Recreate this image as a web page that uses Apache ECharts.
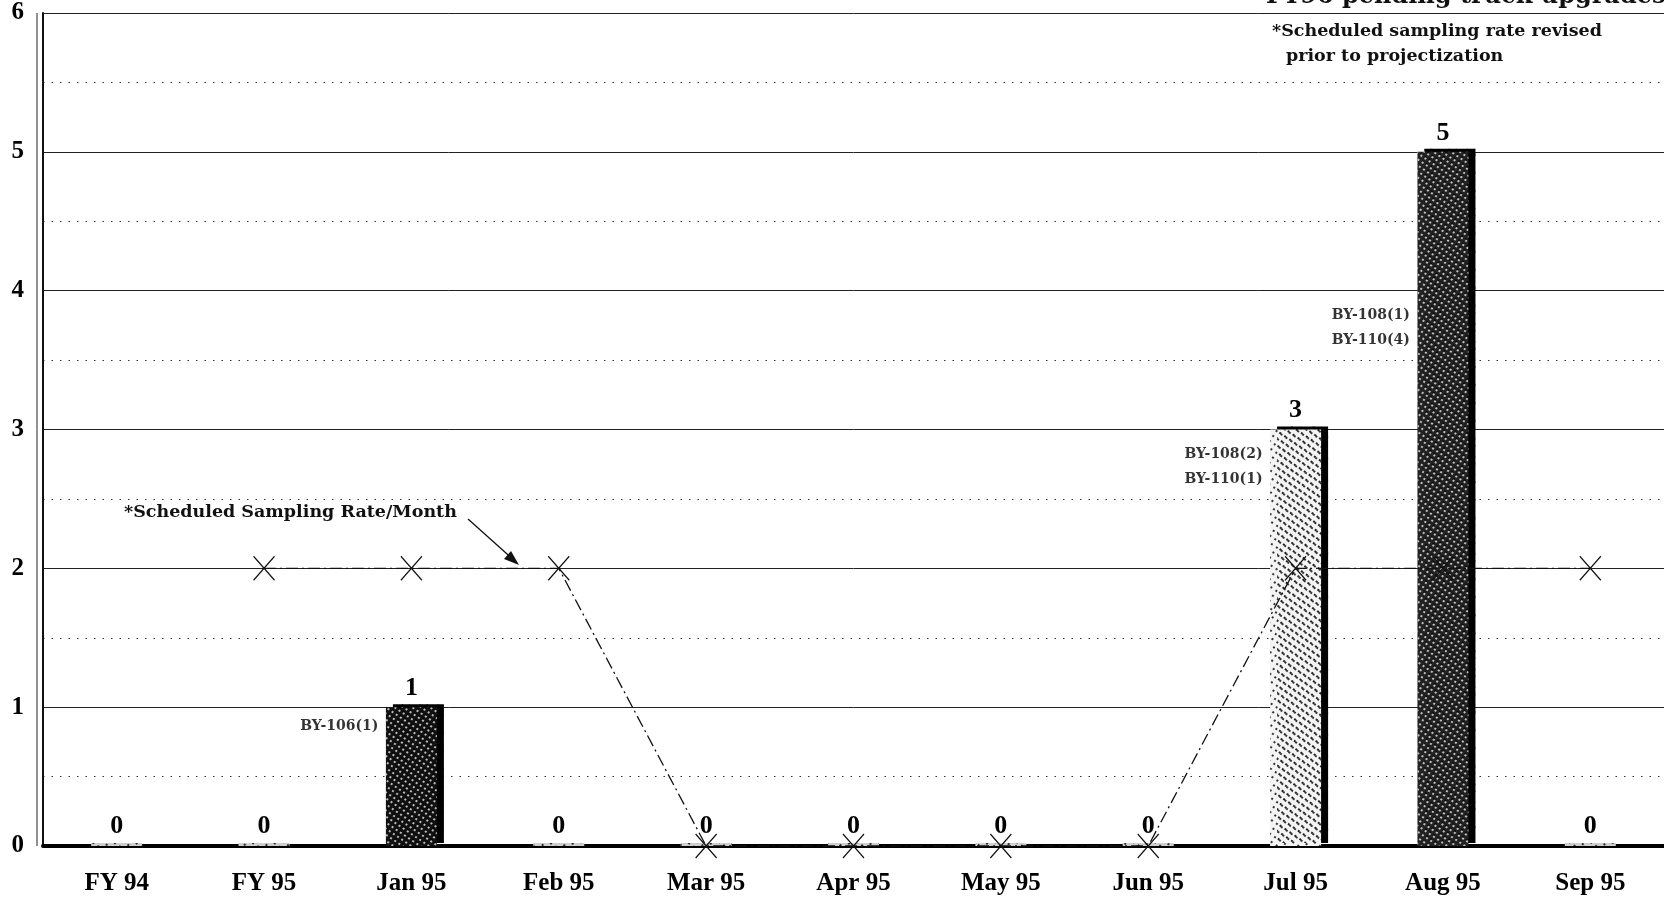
<!DOCTYPE html>
<html><head><meta charset="utf-8">
<script src="https://cdn.jsdelivr.net/npm/echarts@6/dist/echarts.min.js"></script>
<style>html,body{margin:0;padding:0;background:#fff}#c{width:1664px;height:899px}</style>
</head><body><div id="c"></div>
<script>
const categories = ['FY 94','FY 95','Jan 95','Feb 95','Mar 95','Apr 95','May 95','Jun 95','Jul 95','Aug 95','Sep 95'];
const sampledValues = [0,0,1,0,0,0,0,0,3,5,0];
const scheduledRate = [null,2,2,2,0,0,0,0,2,2,2];
const annotationCats = ['Jan 95','Jul 95','Aug 95'];
const annotationY = [0.86, 2.73, 3.73];
const annotationText = ['BY-106(1)','BY-108(2)\nBY-110(1)','BY-108(1)\nBY-110(4)'];
const yTicks = [0,1,2,3,4,5,6];

const serif = '"Liberation Serif","DejaVu Serif",serif';
const wide = '"DejaVu Serif","Liberation Serif",serif';

// bar fill styles per category (pattern look)
const darkDecal = {symbol:'rect', symbolSize:1, color:'rgba(255,255,255,0.7)', dashArrayX:[2,3], dashArrayY:[2,3], rotation:0.6};
const lightDecal = {symbol:'rect', symbolSize:1, color:'rgba(20,20,20,0.85)', dashArrayX:[2,4], dashArrayY:[2,4], rotation:0.6};
const barStyles = {
  'Jan 95': {color:'#111', decal:darkDecal},
  'Jul 95': {color:'#f4f4f4', decal:lightDecal},
  'Aug 95': {color:'#222', decal:darkDecal}
};

const chart = echarts.init(document.getElementById('c'), null, {renderer:'canvas'});
chart.setOption({
  animation:false,
  backgroundColor:'#fff',
  grid:{left:43, right:-14, top:13, bottom:53, containLabel:false},
  xAxis:{
    type:'category', data:categories, boundaryGap:true,
    axisLine:{show:true, lineStyle:{color:'#000', width:4}},
    axisTick:{show:false},
    axisLabel:{color:'#000', fontFamily:serif, fontWeight:'bold', fontSize:25, margin:25},
    splitLine:{show:false}, z:1
  },
  yAxis:{
    type:'value', min:0, max:6, interval:1,
    axisLine:{show:true, lineStyle:{color:'#111', width:2}},
    axisTick:{show:false},
    axisLabel:{color:'#000', fontFamily:serif, fontWeight:'bold', fontSize:25, margin:19,
      formatter:v=>yTicks.includes(v)?String(v):''},
    splitLine:{show:true, lineStyle:{color:'#222', width:1}},
    minorTick:{show:false, splitNumber:2},
    minorSplitLine:{show:true, lineStyle:{color:'#333', width:1.2, type:[1.5,7]}}
  },
  graphic:[
    {type:'line', shape:{x1:37, y1:13, x2:37, y2:846}, style:{stroke:'#222', lineWidth:1}},
    {type:'text', left:1266, top:-15, style:{text:'FY96 pending truck upgrades', font:'bold 24px '+wide, fill:'#111'}},
    {type:'text', left:1272, top:22, style:{text:'*Scheduled sampling rate revised', font:'bold 17.5px '+wide, fill:'#111'}},
    {type:'text', left:1286, top:47, style:{text:'prior to projectization', font:'bold 17.5px '+wide, fill:'#111'}},
    {type:'text', left:124, top:503, style:{text:'*Scheduled Sampling Rate/Month', font:'bold 17.5px '+wide, fill:'#111'}},
    {type:'line', shape:{x1:468, y1:519, x2:516, y2:562}, style:{stroke:'#111', lineWidth:1.3}},
    {type:'polygon', shape:{points:[[519,565],[504,559],[511,551]]}, style:{fill:'#111'}}
  ],
  series:[
    {
      type:'bar', barWidth:51, barMinHeight:3, z:3,
      data: sampledValues.map((v,i)=>{
        const st = barStyles[categories[i]] || {color:'#cfcfcf', decal:lightDecal};
        return {value:v, itemStyle:{color:st.color, decal:st.decal,
          shadowColor:'#000', shadowBlur:0, shadowOffsetX:v>0?7:0, shadowOffsetY:v>0?-3:0},
          label:{distance:v>0?6:4}};
      }),
      label:{show:true, position:'top', color:'#000', fontFamily:serif, fontWeight:'bold', fontSize:26}
    },
    {
      type:'line', data:scheduledRate, z:5, connectNulls:false,
      symbol:'path://M0,0L10,12M10,0L0,12', symbolSize:[21,24],
      lineStyle:{color:'#111', width:1.3, type:[12,4,2,4]},
      itemStyle:{color:'rgba(0,0,0,0)', borderColor:'#111', borderWidth:1.3}
    },
    {
      type:'scatter', symbolSize:0, z:6, silent:true,
      data: annotationCats.map((c,i)=>({value:[c, annotationY[i]], label:{formatter:annotationText[i]}})),
      label:{show:true, position:'left', distance:33, color:'#000', fontFamily:wide, fontWeight:'bold', fontSize:14, lineHeight:25, align:'right'}
    }
  ]
});
</script>
</body></html>
